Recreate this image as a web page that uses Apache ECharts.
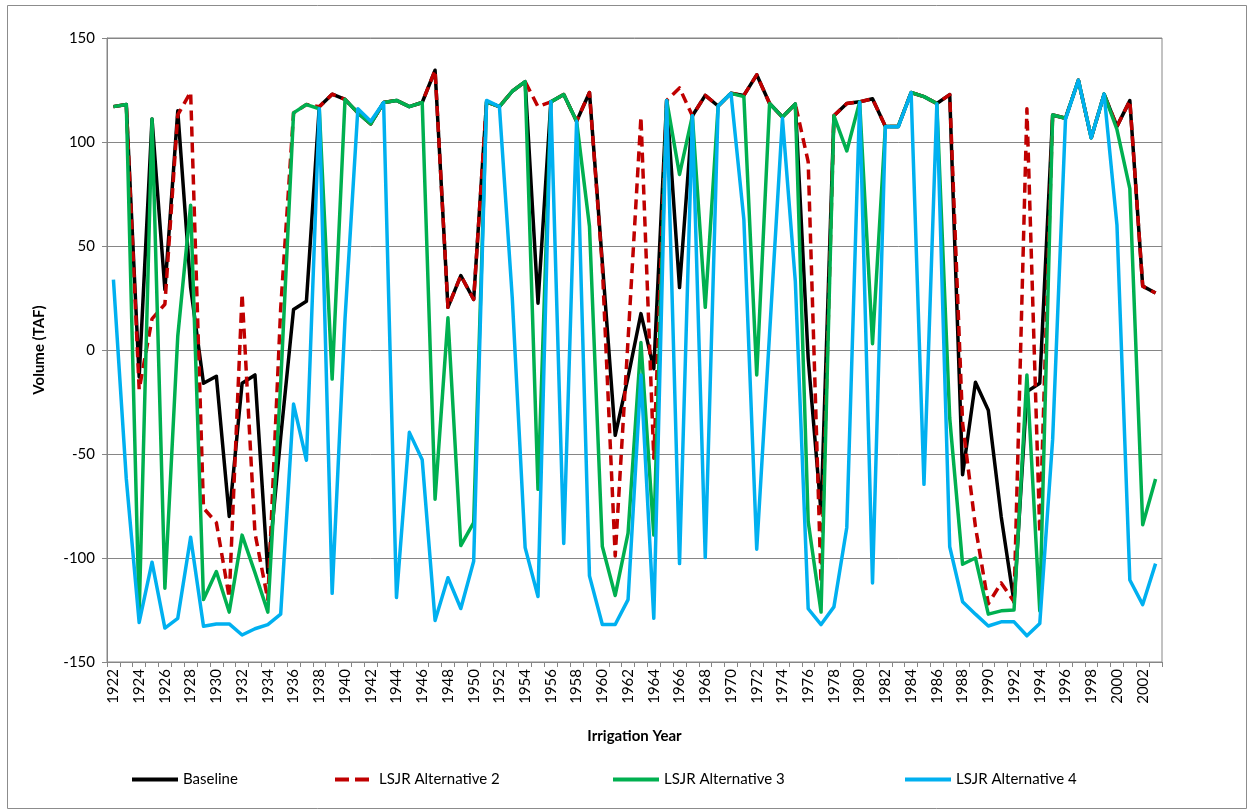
<!DOCTYPE html>
<html>
<head>
<meta charset="utf-8">
<script src="https://cdn.jsdelivr.net/npm/echarts@6/dist/echarts.min.js"></script>
<style>
  html, body { margin: 0; padding: 0; background: #ffffff; }
  #chart { width: 1250px; height: 812px; }
</style>
</head>
<body>
<div id="chart"></div>
<script>
// Irrigation years 1922-2003
const years = [];
for (let y = 1922; y <= 2003; y++) years.push(String(y));

const baseline = [
  117, 118, -13, 111, 29, 115, 30, -16, -12.6, -80,
  -16, -12, -107, -42, 19.5, 23.4, 117, 123, 120.5, 114,
  108.7, 119, 120, 117, 119, 134.5, 20.5, 35.8, 24.3, 119.3,
  117, 124.4, 129, 22.5, 119.3, 122.8, 110, 123.8, 42, -41,
  -13, 17.5, -9, 120, 30, 112.6, 122.4, 117.3, 123.4, 122.4,
  132.3, 118.5, 112, 118.3, -4, -78, 112.6, 118.5, 119.3, 120.8,
  107.5, 107.5, 123.8, 121.8, 118.5, 122.8, -60, -15.5, -29, -80,
  -121.3, -20, -16, 113, 111.4, 129.7, 102, 123, 107.5, 119.9,
  30.7, 27.4
];

const alt2 = [
  117, 118, -19, 15, 22, 113, 124, -76, -83, -119,
  27, -88, -120, 20, 114, 118, 117, 123, 120.5, 114,
  108.7, 119, 120, 117, 119, 134.5, 20.5, 35.8, 24.3, 119.3,
  117, 124.4, 129, 117, 119.3, 122.8, 110, 123.8, 40, -99,
  5, 112, -52, 120, 126, 112.6, 122.4, 117.3, 123.4, 122.4,
  132.3, 118.5, 112, 118.3, 90.5, -112, 112.6, 118.5, 119.3, 120.8,
  107.5, 107.5, 123.8, 121.8, 118.5, 122.8, -35, -85, -122, -112,
  -121, 116, -88, 113, 111.4, 129.7, 102, 123, 107.5, 119.9,
  30.7, 27.4
];

const alt3 = [
  117, 118, -127, 111, -114.5, 6.6, 69.6, -120, -106.5, -126,
  -89, -107, -126, -16, 114, 118, 116, -14, 120.5, 114,
  108.7, 119, 120, 117, 119, -71.7, 15.5, -94, -83, 119.3,
  117, 124.4, 129, -67, 119.3, 122.8, 110, 59.5, -94.5, -118,
  -88, 3.6, -89, 120, 84.4, 112.6, 20.5, 117.3, 123.4, 121.8,
  -12, 118.5, 112, 118.3, -82.5, -126, 112.6, 95.7, 119.3, 3,
  107.5, 107.5, 123.8, 121.8, 118.5, -32.7, -103, -100, -127, -125.4,
  -125, -12, -125.4, 113, 111.4, 129.7, 102, 123, 106, 77.6,
  -84, -62
];

const alt4 = [
  33.8, -62, -131, -102, -133.7, -129, -90, -132.8, -131.7, -131.7,
  -137, -134, -132, -127, -26, -53, 116, -117, 15, 116,
  110, 119, -119, -39.6, -52.8, -130, -109.5, -124.3, -101.6, 120,
  117, 25, -95, -118.5, 119.3, -93, 110, -108.6, -132, -132,
  -120, -12, -129, 120, -102.7, 112.6, -99.8, 117.3, 123.4, 62.8,
  -95.8, 8, 111.4, 33, -124.4, -132, -123.5, -85.3, 119, -112,
  107.3, 107.3, 123.7, -64.6, 118.3, -94.6, -121, -127, -132.7, -130.7,
  -130.7, -137.4, -131.5, -43, 111, 129.7, 102, 123, 60, -110.6,
  -122.4, -102.7
];

const seriesNames = ['Baseline', 'LSJR Alternative 2', 'LSJR Alternative 3', 'LSJR Alternative 4'];
const seriesColors = ['#000000', '#c00000', '#00b050', '#00b0f0'];
const seriesData = [baseline, alt2, alt3, alt4];
const legendLeft = [127, 330, 608, 900];
const legendIcons = [
  'rect',
  'path://M0,0h14v4h-14z M20,0h14v4h-14z',
  'rect',
  'rect'
];

const FONT = 'Lato, "Liberation Sans", sans-serif';
const GRAY = '#868686';

const chart = echarts.init(document.getElementById('chart'), null, { renderer: 'canvas' });

const option = {
  animation: false,
  backgroundColor: '#ffffff',
  textStyle: { fontFamily: FONT },
  graphic: [{
    type: 'rect',
    shape: { x: 7.5, y: 5.5, width: 1239, height: 803 },
    style: { fill: 'none', stroke: '#8c8c8c', lineWidth: 1 },
    z: -10
  }],
  grid: {
    left: 107, right: 88, top: 38, bottom: 150,
    show: true, borderColor: GRAY, borderWidth: 1, backgroundColor: 'transparent'
  },
  legend: seriesNames.map((n, i) => ({
    data: [{ name: n, icon: legendIcons[i] }],
    left: legendLeft[i],
    top: 767,
    itemWidth: i === 1 ? 44 : 46,
    itemHeight: 4,
    itemGap: 5,
    textStyle: { fontFamily: FONT, fontSize: 15, color: '#000' }
  })),
  xAxis: {
    type: 'category',
    data: years,
    boundaryGap: true,
    name: 'Irrigation Year',
    nameLocation: 'middle',
    nameGap: 67,
    nameTextStyle: { fontFamily: FONT, fontSize: 15, fontWeight: 'bold', color: '#000' },
    axisLine: { onZero: false, lineStyle: { color: GRAY, width: 1 } },
    axisTick: { show: true, interval: 0, alignWithLabel: false, length: 5, lineStyle: { color: GRAY } },
    axisLabel: { interval: 1, rotate: 90, margin: 7, fontFamily: FONT, fontSize: 15, color: '#000' },
    splitLine: { show: false }
  },
  yAxis: {
    type: 'value',
    min: -150, max: 150, interval: 50,
    name: 'Volume (TAF)',
    nameLocation: 'middle',
    nameGap: 60,
    nameTextStyle: { fontFamily: FONT, fontSize: 15, fontWeight: 'bold', color: '#000' },
    axisLine: { show: true, lineStyle: { color: GRAY, width: 1 } },
    axisTick: { show: true, length: 5, lineStyle: { color: GRAY } },
    axisLabel: { margin: 12, fontFamily: FONT, fontSize: 15, color: '#000' },
    splitLine: { show: true, lineStyle: { color: GRAY, width: 1 } }
  },
  series: seriesNames.map((n, i) => ({
    name: n,
    type: 'line',
    data: seriesData[i],
    symbol: 'none',
    smooth: false,
    lineStyle: {
      color: seriesColors[i],
      width: 3.5,
      type: i === 1 ? [10, 6] : 'solid',
      cap: 'butt',
      join: 'round'
    },
    itemStyle: { color: seriesColors[i] },
    z: 2 + i
  }))
};

chart.setOption(option);
</script>
</body>
</html>
